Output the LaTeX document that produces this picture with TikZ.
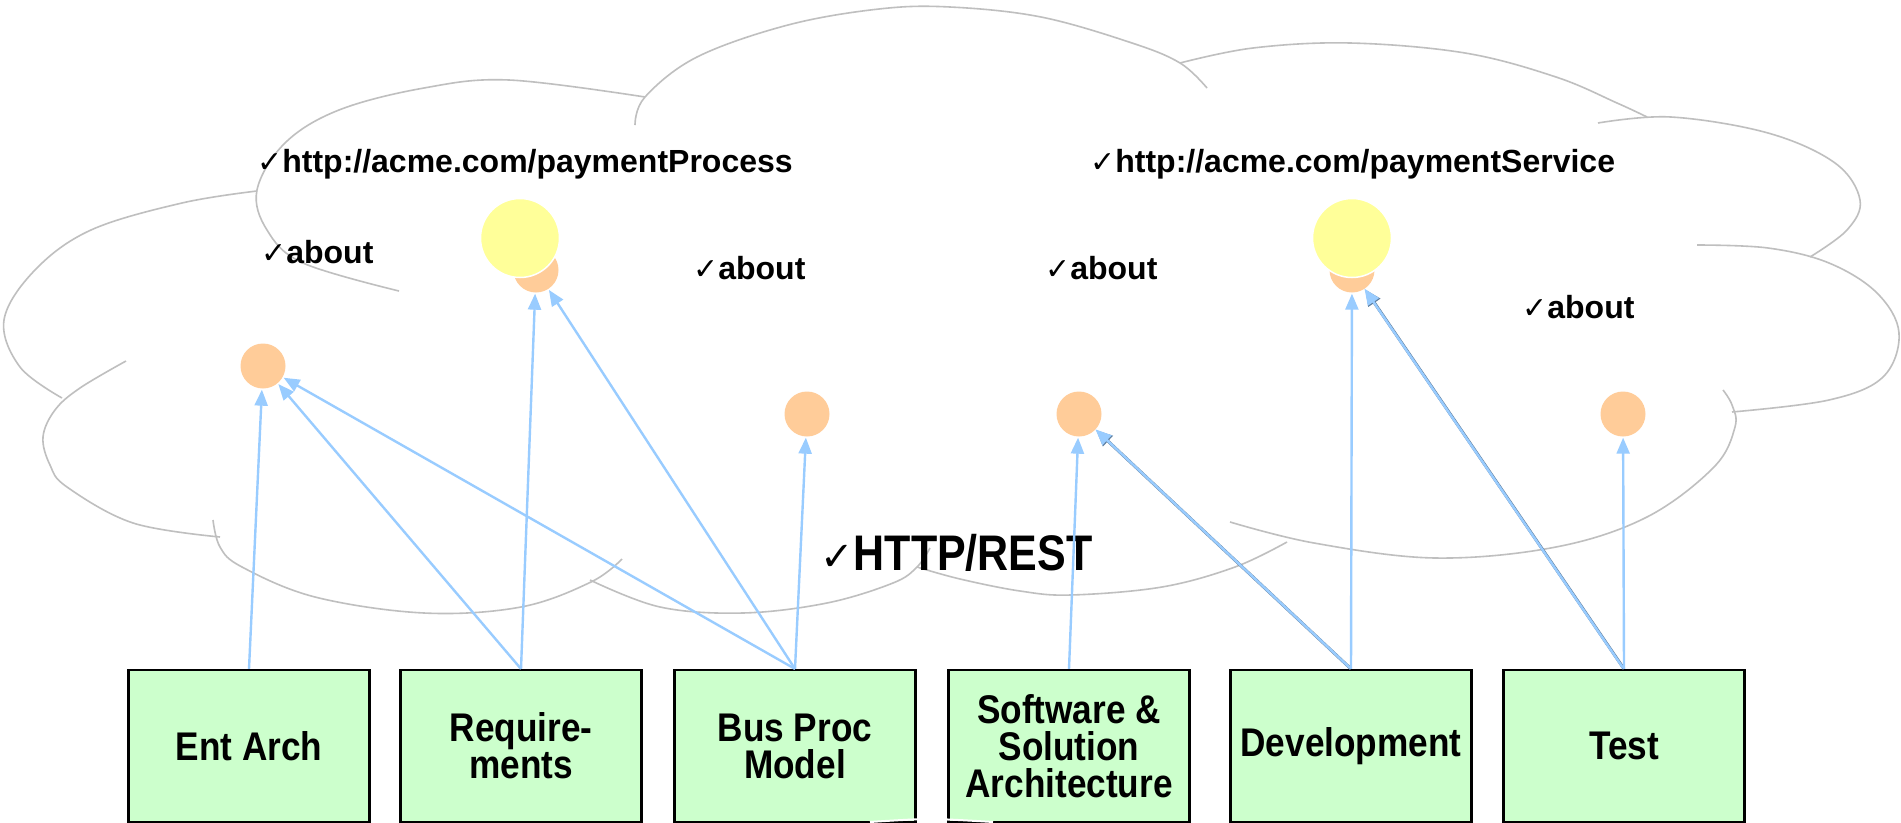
\documentclass[tikz,border=0pt]{standalone}
\usepackage{fontspec}
\setmainfont{Liberation Sans}
\newfontfamily\boxfont[FakeStretch=0.88]{Liberation Sans}
\newfontfamily\httpfont[FakeStretch=0.86]{Liberation Sans}
\newfontfamily\symfont{DejaVu Sans}
\usetikzlibrary{arrows.meta}
\definecolor{cloudgray}{HTML}{BFBFBF}
\definecolor{boxgreen}{HTML}{CCFFCC}
\definecolor{dotorange}{HTML}{FFCC99}
\definecolor{dotyellow}{HTML}{FFFF99}
\definecolor{arrblue}{HTML}{99CCFF}
\definecolor{arrdark}{HTML}{5F7F9F}
\newcommand{\chk}[1]{{\symfont\fontsize{#1}{#1}\selectfont ✓}}
\tikzset{
  cloudline/.style={draw=cloudgray, line width=1.6pt},
  stage/.style={draw=black, line width=2.2pt, fill=boxgreen, minimum width=241pt, minimum height=152pt,
    inner sep=0pt, align=center, font=\boxfont\bfseries\fontsize{40}{37}\selectfont},
  dot/.style={circle, fill=dotorange, minimum size=45pt, inner sep=0pt},
  bigdot/.style={circle, fill=dotyellow, draw=white, line width=1.5pt, minimum size=79pt, inner sep=0pt},
  lbl/.style={anchor=base west, inner sep=0pt, font=\bfseries\fontsize{32}{32}\selectfont},
  arr/.style={draw=arrblue, line width=2.4pt, -{Triangle[length=16pt,width=13pt]}, shorten >=1pt},
  arrshadow/.style={draw=arrdark, line width=3pt, -{Triangle[length=16pt,width=14pt]}, shorten >=1pt}
}
\begin{document}
\begin{tikzpicture}[x=1pt,y=-1pt]
\useasboundingbox[fill=white] (0,0) rectangle (1901,822);
% cloud
\draw[cloudline] plot[smooth,tension=0.6] coordinates {(635,125) (645,97) (697,57) (788,25) (879,9) (950,7) (1041,17) (1132,43) (1180,63) (1207,88)};
\draw[cloudline] plot[smooth,tension=0.6] coordinates {(1180,63) (1253,48) (1350,43) (1465,53) (1556,77) (1617,103) (1647,117)};
\draw[cloudline] plot[smooth,tension=0.6] coordinates {(1598,123) (1671,117) (1768,133) (1835,163) (1860,200) (1847,230) (1810,257)};
\draw[cloudline] plot[smooth,tension=0.6] coordinates {(1697,245) (1768,248) (1829,263) (1877,293) (1899,333) (1883,377) (1829,400) (1732,412)};
\draw[cloudline] plot[smooth,tension=0.6] coordinates {(1230,522) (1314,543) (1435,558) (1556,547) (1647,517) (1714,467) (1735,427) (1732,405) (1723,390)};
\draw[cloudline] plot[smooth,tension=0.6] coordinates {(917,567) (960,579) (1020,591) (1071,595) (1162,587) (1235,567) (1287,542)};
\draw[cloudline] plot[smooth,tension=0.6] coordinates {(590,580) (660,607) (743,613) (827,603) (893,583) (917,567) (930,548)};
\draw[cloudline] plot[smooth,tension=0.6] coordinates {(213,520) (220,547) (242,567) (315,597) (424,613) (521,607) (591,582) (622,559)};
\draw[cloudline] plot[smooth,tension=0.6] coordinates {(126,361) (80,388) (55,410) (43,437) (50,465) (67,487) (133,523) (220,537)};
\draw[cloudline] plot[smooth,tension=0.6] coordinates {(257,191) (182,203) (91,230) (35,270) (4,320) (20,367) (62,398)};
\draw[cloudline] plot[smooth,tension=0.6] coordinates {(399,291) (303,263) (267,230) (257,190) (285,143) (339,110) (424,88) (509,80) (645,97)};
% texts
\node[lbl] (url1) at (257,172) {\chk{30}http://acme.com/paymentProcess};
\node[lbl] (url2) at (1090,172) {\chk{30}http://acme.com/paymentService};
\node[lbl] (ab1) at (261,263) {\chk{30}about};
\node[lbl] (ab2) at (693,279) {\chk{30}about};
\node[lbl] (ab3) at (1045,279) {\chk{30}about};
\node[lbl] (ab4) at (1522,318) {\chk{30}about};
\node[anchor=base west, inner sep=0pt, font=\httpfont\bfseries\fontsize{50}{50}\selectfont] (http) at (820,570) {\chk{40}HTTP/REST};
% dots
\node[dot] (c1) at (263,366) {};
\node[dot] (c2) at (536,270) {};
\node[dot] (c3) at (807,414) {};
\node[dot] (c4) at (1079,414) {};
\node[dot] (c5) at (1352,270) {};
\node[dot] (c6) at (1623,414) {};
\node[bigdot] (y1) at (520,238) {};
\node[bigdot] (y2) at (1352,238) {};
% boxes
\node[stage] (ent) at (249,746) {Ent Arch};
\node[stage] (req) at (521,746) {Require-\\ments};
\node[stage] (bpm) at (795,746) {Bus Proc\\Model};
\node[stage] (ssa) at (1069,746) {Software \&\\Solution\\Architecture};
\node[stage] (dev) at (1351,746) {Development};
\node[stage] (tst) at (1624,746) {Test};
\draw[white, line width=2pt] plot[smooth] coordinates {(870,822) (930,819) (993,822)};
% connectors
\draw[arr] (ent.north) -- (c1);
\draw[arr] (req.north) -- (c1);
\draw[arr] (req.north) -- (c2);
\draw[arr] (bpm.north) -- (c1);
\draw[arr] (bpm.north) -- (c2);
\draw[arr] (bpm.north) -- (c3);
\draw[arr] (ssa.north) -- (c4);
\draw[arrshadow] (dev.north) -- (c4);
\draw[arr, transform canvas={shift={(-0.9pt,0.9pt)}}] (dev.north) -- (c4);
\draw[arr] (dev.north) -- (c5);
\draw[arrshadow] (tst.north) -- (c5);
\draw[arr, transform canvas={shift={(-0.9pt,0.9pt)}}] (tst.north) -- (c5);
\draw[arr] (tst.north) -- (c6);
\end{tikzpicture}
\end{document}
